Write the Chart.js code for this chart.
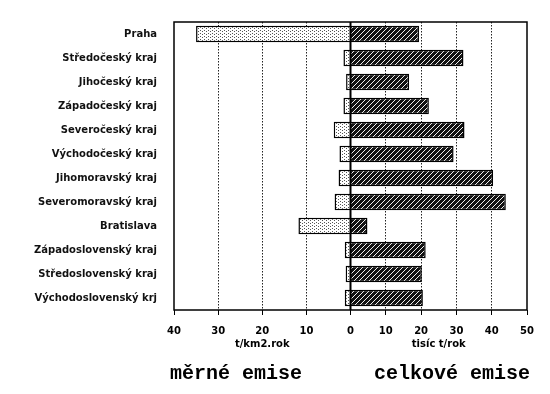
<!DOCTYPE html>
<html lang="cs">
<head>
    <meta charset="UTF-8">
    <title>Emise</title>
    <style>
        html, body { margin: 0; padding: 0; background: #fff; }
        #wrap { position: relative; width: 550px; height: 394px; }
    </style>
</head>
<body>
    <div id="wrap"><canvas id="emiseChart" width="550" height="394"></canvas></div>

    <script src="https://cdn.jsdelivr.net/npm/chart.js"></script>
    <script>
        var regions = [
            'Praha', 'Středočeský kraj', 'Jihočeský kraj', 'Západočeský kraj',
            'Severočeský kraj', 'Východočeský kraj', 'Jihomoravský kraj',
            'Severomoravský kraj', 'Bratislava', 'Západoslovenský kraj',
            'Středoslovenský kraj', 'Východoslovenský krj'
        ];
        // t/km2.rok
        var merne = [35, 1.6, 1.0, 1.6, 3.8, 2.5, 2.7, 3.6, 11.8, 1.3, 1.1, 1.3];
        // tisic t/rok
        var celkove = [19.4, 32, 16.6, 22.2, 32.3, 29.2, 40.4, 44, 4.8, 21.3, 20.2, 20.5];

        var leftTicks = [0, 10, 20, 30, 40];
        var rightTicks = [0, 10, 20, 30, 40, 50];

        function makeDots() {
            var c = document.createElement('canvas');
            c.width = 4; c.height = 3;
            var g = c.getContext('2d');
            g.fillStyle = '#fff';
            g.fillRect(0, 0, 4, 3);
            g.fillStyle = '#555';
            g.fillRect(0, 0, 1, 1);
            g.fillRect(2, 1, 1, 1);
            return g.createPattern(c, 'repeat');
        }

        function makeHatch() {
            var c = document.createElement('canvas');
            c.width = 5; c.height = 5;
            var g = c.getContext('2d');
            g.fillStyle = '#111';
            g.fillRect(0, 0, 5, 5);
            g.fillStyle = '#f0f0f0';
            for (var i = 0; i < 5; i++) g.fillRect(i, 4 - i, 1, 1);
            return g.createPattern(c, 'repeat');
        }

        var framePlugin = {
            id: 'frame',
            afterDatasetsDraw: function(chart) {
                var ctx = chart.ctx, a = chart.chartArea;
                var zero = chart.scales.xR.getPixelForValue(0);
                ctx.save();
                ctx.strokeStyle = '#000';
                ctx.lineWidth = 1.5;
                ctx.strokeRect(a.left, a.top, a.right - a.left, a.bottom - a.top);
                ctx.lineWidth = 2;
                ctx.beginPath();
                ctx.moveTo(zero, a.top);
                ctx.lineTo(zero, a.bottom);
                ctx.stroke();
                ctx.restore();
            },
            afterDraw: function(chart) {
                var ctx = chart.ctx;
                ctx.save();
                ctx.fillStyle = '#000';
                ctx.font = 'bold 20px "Liberation Mono"';
                ctx.textAlign = 'center';
                ctx.textBaseline = 'alphabetic';
                ctx.fillText('měrné emise', 236, 379);
                ctx.fillText('celkové emise', 452, 379);
                ctx.restore();
            }
        };

        function gridColor(ends) {
            return function(c) {
                return ends.indexOf(c.tick && c.tick.value) >= 0 ? 'rgba(0,0,0,0)' : '#222';
            };
        }

        var tickFont = { family: 'DejaVu Sans', size: 10, weight: 'bold' };
        var titleFont = { family: 'DejaVu Sans', size: 10, weight: 'bold' };

        var ctx = document.getElementById('emiseChart').getContext('2d');
        var chart = new Chart(ctx, {
            type: 'bar',
            data: {
                labels: regions,
                datasets: [
                    {
                        data: merne,
                        xAxisID: 'xL',
                        backgroundColor: makeDots(),
                        borderColor: '#000',
                        borderWidth: 1.5,
                        grouped: false,
                        barPercentage: 0.68,
                        categoryPercentage: 1
                    },
                    {
                        data: celkove,
                        xAxisID: 'xR',
                        backgroundColor: makeHatch(),
                        borderColor: '#000',
                        borderWidth: 1.5,
                        grouped: false,
                        barPercentage: 0.68,
                        categoryPercentage: 1
                    }
                ]
            },
            options: {
                indexAxis: 'y',
                responsive: false,
                animation: false,
                layout: { padding: { top: 22, right: 23, left: 0, bottom: 0 } },
                plugins: { legend: { display: false }, tooltip: { enabled: false } },
                scales: {
                    y: {
                        grid: { display: false },
                        border: { display: false },
                        ticks: { color: '#111', font: tickFont, padding: 9 },
                        afterFit: function(s) { s.width = 174; }
                    },
                    xL: {
                        position: 'bottom',
                        stack: 'x',
                        stackWeight: 1,
                        reverse: true,
                        min: 0,
                        max: 40,
                        afterBuildTicks: function(s) { s.ticks = leftTicks.map(function(v) { return { value: v }; }); },
                        grid: { color: gridColor([0, 40]), tickColor: '#000', tickLength: 5, lineWidth: 1 },
                        border: { display: false, dash: [1.5, 1.5] },
                        ticks: { color: '#000', font: tickFont, padding: 10, maxRotation: 0 },
                        title: { display: true, text: 't/km2.rok', color: '#000', font: titleFont, padding: { top: 0, bottom: 44 } },
                        afterFit: function(s) { s.height = 84; }
                    },
                    xR: {
                        position: 'bottom',
                        stack: 'x',
                        stackWeight: 1,
                        min: 0,
                        max: 50,
                        afterBuildTicks: function(s) { s.ticks = rightTicks.map(function(v) { return { value: v }; }); },
                        grid: { color: gridColor([0, 50]), tickColor: '#000', tickLength: 5, lineWidth: 1 },
                        border: { display: false, dash: [1.5, 1.5] },
                        ticks: {
                            color: '#000', font: tickFont, padding: 10, maxRotation: 0,
                            callback: function(v) { return v === 0 ? '' : v; }
                        },
                        title: { display: true, text: 'tisíc t/rok', color: '#000', font: titleFont, padding: { top: 0, bottom: 44 } },
                        afterFit: function(s) { s.height = 84; }
                    }
                }
            },
            plugins: [framePlugin]
        });
    </script>
</body>
</html>
